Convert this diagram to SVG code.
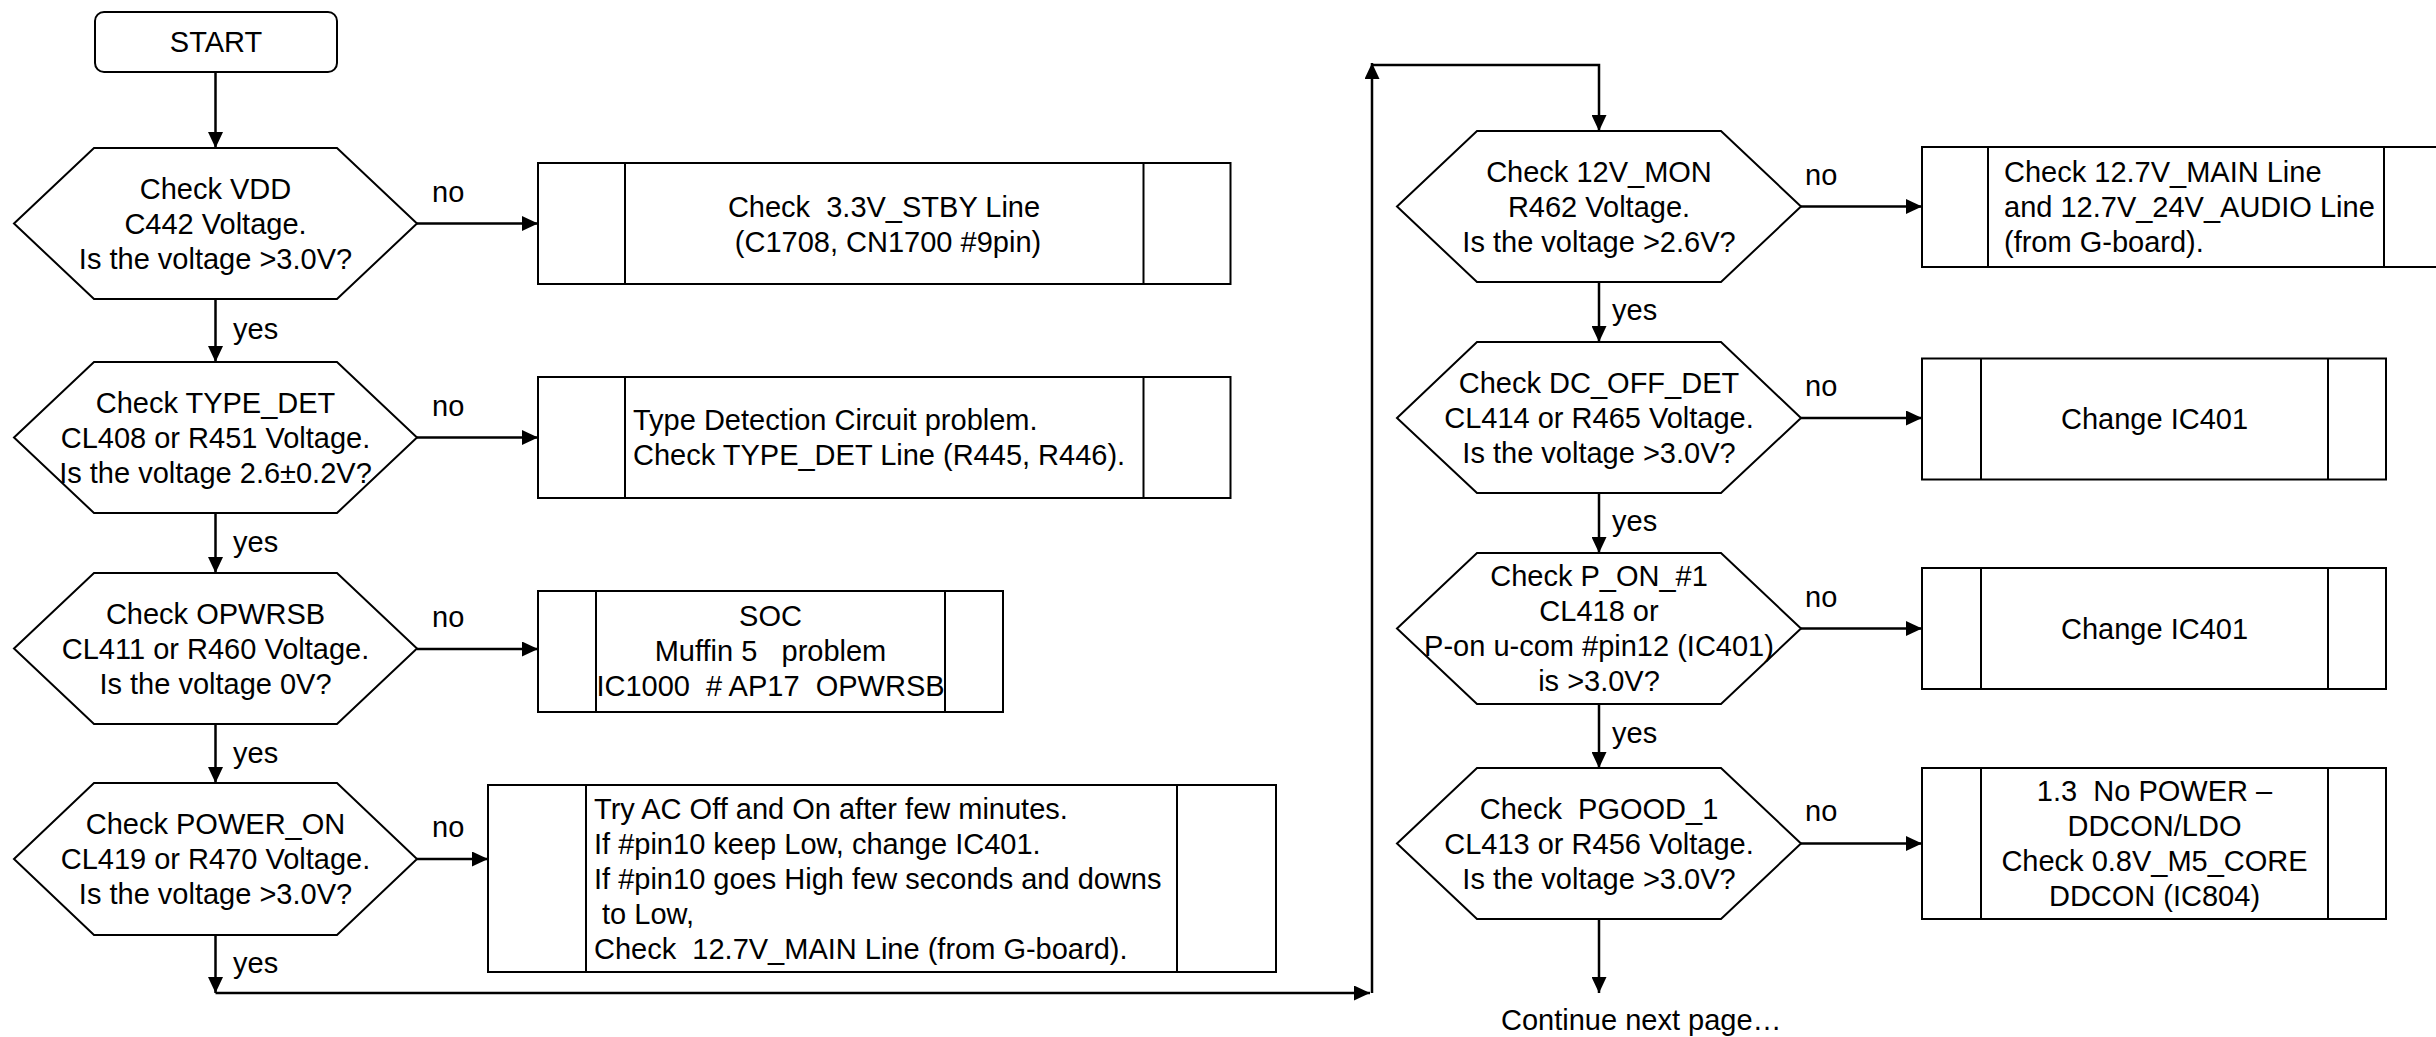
<svg xmlns="http://www.w3.org/2000/svg" width="2436" height="1037" viewBox="0 0 2436 1037">
<style>
text{font-family:"Liberation Sans",Arial,sans-serif;font-size:29px;fill:#000;white-space:pre}
.c{text-anchor:middle}
.s{fill:#fff;stroke:#000;stroke-width:2}
.l{fill:none;stroke:#000;stroke-width:2}
.k{fill:none;stroke:#000;stroke-width:2.5}
</style>
<defs>
<marker id="ah" markerUnits="userSpaceOnUse" markerWidth="16" markerHeight="15" refX="16" refY="7.5" orient="auto"><path d="M0,0 L16,7.5 L0,15 z" fill="#000"/></marker>
</defs>
<rect width="2436" height="1037" fill="#fff"/>

<g id="connectors">
<line class="k" x1="215.5" y1="73" x2="215.5" y2="148" marker-end="url(#ah)"/>
<line class="k" x1="417" y1="223.5" x2="538" y2="223.5" marker-end="url(#ah)"/>
<line class="k" x1="215.5" y1="299" x2="215.5" y2="362" marker-end="url(#ah)"/>
<line class="k" x1="417" y1="437.5" x2="538" y2="437.5" marker-end="url(#ah)"/>
<line class="k" x1="215.5" y1="513" x2="215.5" y2="573" marker-end="url(#ah)"/>
<line class="k" x1="417" y1="649" x2="538" y2="649" marker-end="url(#ah)"/>
<line class="k" x1="215.5" y1="724" x2="215.5" y2="783" marker-end="url(#ah)"/>
<line class="k" x1="417" y1="859" x2="488" y2="859" marker-end="url(#ah)"/>
<line class="k" x1="215.5" y1="935" x2="215.5" y2="993" marker-end="url(#ah)"/>
<line class="k" x1="215.5" y1="993" x2="1370" y2="993" marker-end="url(#ah)"/>
<line class="k" x1="1372" y1="993" x2="1372" y2="63" marker-end="url(#ah)"/>
<polyline class="k" points="1372,65 1599,65 1599,131" marker-end="url(#ah)"/>
<line class="k" x1="1801" y1="206.5" x2="1922" y2="206.5" marker-end="url(#ah)"/>
<line class="k" x1="1599" y1="282" x2="1599" y2="342" marker-end="url(#ah)"/>
<line class="k" x1="1801" y1="418" x2="1922" y2="418" marker-end="url(#ah)"/>
<line class="k" x1="1599" y1="493" x2="1599" y2="553" marker-end="url(#ah)"/>
<line class="k" x1="1801" y1="628.5" x2="1922" y2="628.5" marker-end="url(#ah)"/>
<line class="k" x1="1599" y1="704" x2="1599" y2="768" marker-end="url(#ah)"/>
<line class="k" x1="1801" y1="843.5" x2="1922" y2="843.5" marker-end="url(#ah)"/>
<line class="k" x1="1599" y1="919" x2="1599" y2="993" marker-end="url(#ah)"/>
<text x="432" y="201.5">no</text>
<text x="233" y="339">yes</text>
<text x="432" y="415.5">no</text>
<text x="233" y="552">yes</text>
<text x="432" y="627">no</text>
<text x="233" y="763">yes</text>
<text x="432" y="837">no</text>
<text x="233" y="973">yes</text>
<text x="1805" y="184.5">no</text>
<text x="1612" y="320">yes</text>
<text x="1805" y="396">no</text>
<text x="1612" y="531">yes</text>
<text x="1805" y="606.5">no</text>
<text x="1612" y="743">yes</text>
<text x="1805" y="821">no</text>
</g>

<g id="start">
<rect class="s" x="95" y="12" width="242" height="60" rx="9"/>
<text class="c" x="216" y="52">START</text>
</g>

<g id="hex1">
<polygon class="s" points="14,223.5 94,148 337,148 417,223.5 337,299 94,299"/>
<text class="c" x="215.5" y="198.5">Check VDD</text>
<text class="c" x="215.5" y="233.5">C442 Voltage.</text>
<text class="c" x="215.5" y="268.5">Is the voltage &gt;3.0V?</text>
</g>
<g id="box1">
<rect class="s" x="538" y="163" width="692.5" height="121"/>
<line class="l" x1="625" y1="163" x2="625" y2="284"/>
<line class="l" x1="1143.5" y1="163" x2="1143.5" y2="284"/>
<text class="c" x="884" y="216.5">Check  3.3V_STBY Line</text>
<text class="c" x="884" y="251.5"> (C1708, CN1700 #9pin)</text>
</g>

<g id="hex2">
<polygon class="s" points="14,437.5 94,362 337,362 417,437.5 337,513 94,513"/>
<text class="c" x="215.5" y="412.5">Check TYPE_DET</text>
<text class="c" x="215.5" y="447.5">CL408 or R451 Voltage.</text>
<text class="c" x="215.5" y="482.5">Is the voltage 2.6±0.2V?</text>
</g>
<g id="box2">
<rect class="s" x="538" y="377" width="692.5" height="121"/>
<line class="l" x1="625" y1="377" x2="625" y2="498"/>
<line class="l" x1="1143.5" y1="377" x2="1143.5" y2="498"/>
<text x="633" y="430">Type Detection Circuit problem.</text>
<text x="633" y="465">Check TYPE_DET Line (R445, R446).</text>
</g>

<g id="hex3">
<polygon class="s" points="14,648.5 94,573 337,573 417,648.5 337,724 94,724"/>
<text class="c" x="215.5" y="623.5">Check OPWRSB</text>
<text class="c" x="215.5" y="658.5">CL411 or R460 Voltage.</text>
<text class="c" x="215.5" y="693.5">Is the voltage 0V?</text>
</g>
<g id="box3">
<rect class="s" x="538" y="591" width="465" height="121"/>
<line class="l" x1="596" y1="591" x2="596" y2="712"/>
<line class="l" x1="945" y1="591" x2="945" y2="712"/>
<text class="c" x="770.5" y="626">SOC</text>
<text class="c" x="770.5" y="661">Muffin 5   problem</text>
<text class="c" x="770.5" y="696">IC1000  # AP17  OPWRSB</text>
</g>

<g id="hex4">
<polygon class="s" points="14,859 94,783 337,783 417,859 337,935 94,935"/>
<text class="c" x="215.5" y="834">Check POWER_ON</text>
<text class="c" x="215.5" y="869">CL419 or R470 Voltage.</text>
<text class="c" x="215.5" y="904">Is the voltage &gt;3.0V?</text>
</g>
<g id="box4">
<rect class="s" x="488" y="785" width="788" height="187"/>
<line class="l" x1="586" y1="785" x2="586" y2="972"/>
<line class="l" x1="1177" y1="785" x2="1177" y2="972"/>
<text x="594" y="818.5">Try AC Off and On after few minutes.</text>
<text x="594" y="853.5">If #pin10 keep Low, change IC401.</text>
<text x="594" y="888.5">If #pin10 goes High few seconds and downs</text>
<text x="594" y="923.5"> to Low,</text>
<text x="594" y="958.5">Check  12.7V_MAIN Line (from G-board).</text>
</g>

<g id="hex5">
<polygon class="s" points="1397,206.5 1477,131 1721,131 1801,206.5 1721,282 1477,282"/>
<text class="c" x="1599" y="181.5">Check 12V_MON</text>
<text class="c" x="1599" y="216.5">R462 Voltage.</text>
<text class="c" x="1599" y="251.5">Is the voltage &gt;2.6V?</text>
</g>
<g id="box5">
<rect class="s" x="1922" y="147" width="530" height="120"/>
<line class="l" x1="1988" y1="147" x2="1988" y2="267"/>
<line class="l" x1="2384" y1="147" x2="2384" y2="267"/>
<text x="2004" y="182">Check 12.7V_MAIN Line</text>
<text x="2004" y="217">and 12.7V_24V_AUDIO Line</text>
<text x="2004" y="252">(from G-board).</text>
</g>

<g id="hex6">
<polygon class="s" points="1397,418 1477,342 1721,342 1801,418 1721,493 1477,493"/>
<text class="c" x="1599" y="393">Check DC_OFF_DET</text>
<text class="c" x="1599" y="428">CL414 or R465 Voltage.</text>
<text class="c" x="1599" y="463">Is the voltage &gt;3.0V?</text>
</g>
<g id="box6">
<rect class="s" x="1922" y="358.5" width="464" height="121"/>
<line class="l" x1="1981" y1="358.5" x2="1981" y2="479.5"/>
<line class="l" x1="2328" y1="358.5" x2="2328" y2="479.5"/>
<text class="c" x="2154.5" y="429">Change IC401</text>
</g>

<g id="hex7">
<polygon class="s" points="1397,628.5 1477,553 1721,553 1801,628.5 1721,704 1477,704"/>
<text class="c" x="1599" y="586">Check P_ON_#1</text>
<text class="c" x="1599" y="621">CL418 or</text>
<text class="c" x="1599" y="656">P-on u-com #pin12 (IC401)</text>
<text class="c" x="1599" y="691">is &gt;3.0V?</text>
</g>
<g id="box7">
<rect class="s" x="1922" y="568" width="464" height="121"/>
<line class="l" x1="1981" y1="568" x2="1981" y2="689"/>
<line class="l" x1="2328" y1="568" x2="2328" y2="689"/>
<text class="c" x="2154.5" y="638.5">Change IC401</text>
</g>

<g id="hex8">
<polygon class="s" points="1397,843.5 1477,768 1721,768 1801,843.5 1721,919 1477,919"/>
<text class="c" x="1599" y="818.5">Check  PGOOD_1</text>
<text class="c" x="1599" y="853.5">CL413 or R456 Voltage.</text>
<text class="c" x="1599" y="888.5">Is the voltage &gt;3.0V?</text>
</g>
<g id="box8">
<rect class="s" x="1922" y="768" width="464" height="151"/>
<line class="l" x1="1981" y1="768" x2="1981" y2="919"/>
<line class="l" x1="2328" y1="768" x2="2328" y2="919"/>
<text class="c" x="2154.5" y="801">1.3  No POWER –</text>
<text class="c" x="2154.5" y="836">DDCON/LDO</text>
<text class="c" x="2154.5" y="871">Check 0.8V_M5_CORE</text>
<text class="c" x="2154.5" y="906">DDCON (IC804)</text>
</g>

<g id="continue">
<text x="1501" y="1030">Continue next page…</text>
</g>
</svg>
